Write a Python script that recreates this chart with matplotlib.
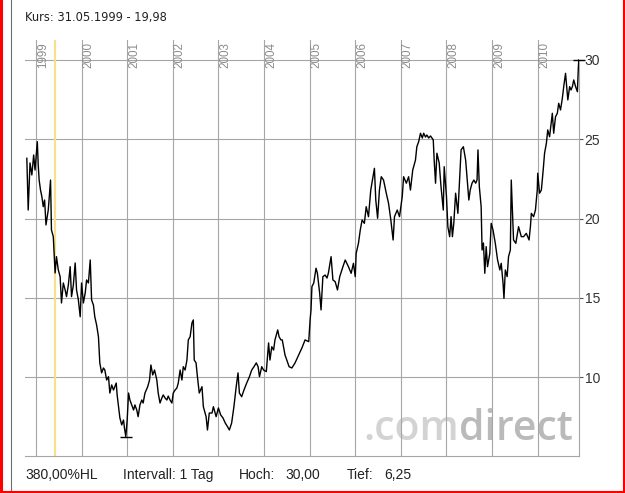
import matplotlib
matplotlib.use("Agg")
import numpy as np
import matplotlib.pyplot as plt
from matplotlib.lines import Line2D
from matplotlib.transforms import IdentityTransform

plt.rcParams['font.family'] = ['Liberation Sans', 'DejaVu Sans']

# Tageskurs (Zeit in Dezimaljahren)
jahr = [1998.80, 1998.83, 1998.87, 1998.91, 1998.95, 1998.98, 1999.03, 1999.05, 1999.07, 1999.10,
        1999.13, 1999.16, 1999.19, 1999.22, 1999.27, 1999.32, 1999.34, 1999.38, 1999.42, 1999.45,
        1999.49, 1999.53, 1999.56, 1999.60, 1999.64, 1999.67, 1999.71, 1999.75, 1999.78, 1999.82,
        1999.86, 1999.89, 1999.93, 1999.97, 2000.00, 2000.04, 2000.08, 2000.11, 2000.15, 2000.19,
        2000.22, 2000.26, 2000.29, 2000.33, 2000.37, 2000.40, 2000.44, 2000.48, 2000.51, 2000.55,
        2000.59, 2000.62, 2000.66, 2000.70, 2000.76, 2000.78, 2000.81, 2000.84, 2000.88, 2000.92,
        2000.94, 2000.97, 2001.00, 2001.03, 2001.06, 2001.10, 2001.14, 2001.17, 2001.21, 2001.24,
        2001.28, 2001.32, 2001.35, 2001.39, 2001.45, 2001.49, 2001.52, 2001.56, 2001.60, 2001.65,
        2001.68, 2001.72, 2001.76, 2001.79, 2001.83, 2001.87, 2001.90, 2001.94, 2001.98, 2002.01,
        2002.05, 2002.09, 2002.12, 2002.16, 2002.20, 2002.23, 2002.27, 2002.31, 2002.34, 2002.38,
        2002.42, 2002.45, 2002.47, 2002.51, 2002.54, 2002.58, 2002.64, 2002.67, 2002.73, 2002.76,
        2002.80, 2002.86, 2002.89, 2002.95, 2003.00, 2003.05, 2003.10, 2003.15, 2003.20, 2003.24,
        2003.29, 2003.34, 2003.39, 2003.43, 2003.46, 2003.51, 2003.56, 2003.62, 2003.68, 2003.73,
        2003.78, 2003.83, 2003.87, 2003.90, 2003.95, 2003.99, 2004.05, 2004.10, 2004.13, 2004.17,
        2004.21, 2004.24, 2004.30, 2004.33, 2004.37, 2004.40, 2004.46, 2004.50, 2004.55, 2004.61,
        2004.68, 2004.76, 2004.83, 2004.90, 2004.98, 2005.01, 2005.03, 2005.05, 2005.09, 2005.14,
        2005.17, 2005.22, 2005.25, 2005.29, 2005.34, 2005.38, 2005.41, 2005.47, 2005.51, 2005.56,
        2005.61, 2005.66, 2005.73, 2005.78, 2005.85, 2005.91, 2005.96, 2006.00, 2006.02, 2006.07,
        2006.11, 2006.15, 2006.20, 2006.24, 2006.29, 2006.34, 2006.39, 2006.42, 2006.45, 2006.49,
        2006.53, 2006.57, 2006.62, 2006.68, 2006.73, 2006.78, 2006.83, 2006.86, 2006.92, 2006.97,
        2007.03, 2007.06, 2007.12, 2007.17, 2007.21, 2007.26, 2007.32, 2007.35, 2007.39, 2007.43,
        2007.47, 2007.50, 2007.54, 2007.57, 2007.61, 2007.65, 2007.71, 2007.73, 2007.76, 2007.79,
        2007.84, 2007.88, 2007.93, 2007.95, 2008.00, 2008.03, 2008.07, 2008.10, 2008.13, 2008.16,
        2008.20, 2008.25, 2008.29, 2008.32, 2008.37, 2008.40, 2008.42, 2008.45, 2008.49, 2008.52,
        2008.56, 2008.60, 2008.64, 2008.67, 2008.69, 2008.72, 2008.76, 2008.78, 2008.81, 2008.84,
        2008.87, 2008.90, 2008.95, 2008.98, 2009.02, 2009.07, 2009.12, 2009.17, 2009.20, 2009.24,
        2009.26, 2009.29, 2009.33, 2009.36, 2009.40, 2009.42, 2009.44, 2009.47, 2009.52, 2009.58,
        2009.64, 2009.69, 2009.75, 2009.81, 2009.84, 2009.86, 2009.91, 2009.95, 2009.99, 2010.00,
        2010.04, 2010.08, 2010.12, 2010.15, 2010.19, 2010.22, 2010.26, 2010.29, 2010.32, 2010.35,
        2010.39, 2010.43, 2010.46, 2010.50, 2010.54, 2010.57, 2010.61, 2010.64, 2010.66, 2010.70,
        2010.73, 2010.76, 2010.79, 2010.83, 2010.87, 2010.89, 2010.90]

kurs = [23.80, 20.54, 23.51, 22.75, 24.01, 23.06, 24.85, 23.38, 22.43, 21.80,
        21.38, 20.75, 21.17, 19.60, 20.54, 22.43, 19.28, 18.86, 16.57, 17.60,
        16.76, 16.34, 14.68, 15.94, 15.50, 15.08, 15.81, 16.97, 15.08, 15.81,
        17.20, 15.50, 14.87, 13.81, 15.94, 14.68, 15.31, 16.13, 15.94, 17.39,
        14.87, 14.55, 13.81, 13.29, 12.55, 10.90, 10.27, 10.58, 10.45, 9.82,
        10.03, 9.00, 9.51, 9.19, 9.63, 8.88, 8.14, 7.43, 6.99, 7.30,
        6.80, 6.25, 7.30, 9.00, 8.56, 8.25, 7.93, 8.25, 7.93, 7.51,
        8.25, 8.56, 8.37, 9.00, 9.40, 9.82, 10.77, 10.14, 10.45, 9.82,
        9.00, 8.37, 8.69, 8.88, 8.69, 8.56, 8.81, 8.56, 8.37, 9.00,
        9.19, 9.32, 9.63, 10.45, 9.82, 10.66, 10.45, 11.08, 12.35, 12.55,
        13.42, 13.61, 11.08, 10.90, 10.03, 9.00, 9.40, 8.14, 7.51, 6.67,
        7.74, 7.74, 8.14, 7.51, 8.06, 7.62, 7.43, 7.11, 6.88, 6.67,
        7.11, 8.14, 9.40, 10.27, 9.00, 8.77, 9.19, 9.63, 10.03, 10.45,
        10.66, 10.90, 10.66, 10.03, 10.66, 10.45, 10.35, 12.16, 11.08, 11.92,
        11.71, 12.35, 12.98, 12.55, 12.35, 12.35, 11.40, 11.08, 10.66, 10.58,
        10.90, 11.40, 11.84, 12.35, 12.24, 13.61, 14.24, 15.71, 15.94, 16.87,
        16.55, 15.29, 14.24, 16.34, 16.44, 16.25, 16.55, 17.60, 16.13, 16.02,
        15.50, 16.34, 16.97, 17.39, 16.97, 16.55, 17.18, 16.34, 17.81, 18.44,
        19.28, 19.91, 19.70, 20.75, 20.12, 21.80, 22.64, 23.17, 21.17, 20.02,
        21.80, 22.64, 22.43, 21.60, 20.96, 19.91, 18.65, 20.12, 20.54, 20.12,
        21.38, 22.64, 22.23, 22.64, 21.80, 23.06, 23.69, 24.53, 24.85, 25.38,
        25.08, 25.38, 25.14, 25.27, 25.08, 25.21, 24.96, 23.69, 22.23, 24.12,
        23.51, 22.01, 20.54, 23.27, 21.38, 19.49, 18.86, 20.12, 18.86, 19.70,
        21.60, 20.33, 22.64, 24.33, 24.53, 24.01, 23.69, 22.64, 21.17, 21.80,
        22.23, 22.43, 22.23, 22.43, 24.33, 22.01, 20.75, 18.02, 18.46, 16.55,
        18.23, 16.97, 17.81, 19.70, 19.28, 18.44, 17.39, 16.76, 17.18, 15.92,
        14.97, 16.76, 16.34, 17.60, 18.02, 22.43, 20.96, 18.65, 18.44, 19.49,
        18.86, 18.86, 19.07, 18.65, 19.49, 20.33, 20.12, 20.54, 21.80, 22.86,
        21.60, 21.80, 23.06, 24.12, 24.75, 25.59, 25.16, 25.90, 26.64, 25.38,
        26.42, 26.64, 27.27, 26.85, 27.59, 28.32, 29.16, 28.11, 27.48, 28.32,
        28.11, 28.32, 28.74, 28.32, 28.00, 29.48, 30.00]

jahre = list(range(1999, 2011))
y_ticks = [10, 15, 20, 25, 30]
stichtag = 1999.411   # 31.05.1999
hoch = 30.00
tief = 6.25

W, H = 625, 493
fig = plt.figure(figsize=(W / 100, H / 100), dpi=100)
ax = fig.add_axes([25 / W, 37 / H, 554 / W, 416 / H])
ax.set_xlim(1998.76, 2010.905)
ax.set_ylim(5.03, 31.26)

grid_c = '#a6a6a6'
for s in ['left', 'top']:
    ax.spines[s].set_visible(False)
ax.spines['right'].set_color(grid_c)
ax.spines['bottom'].set_color(grid_c)
ax.spines['right'].set_bounds(5.03, 30)
ax.yaxis.tick_right()
ax.set_yticks(y_ticks)
ax.set_yticklabels([str(v) for v in y_ticks])
ax.tick_params(axis='y', length=3, width=0.8, color='#555555', labelsize=10,
               labelcolor='#333333', pad=1)
ax.set_xticks([])

for v in y_ticks:
    ax.axhline(v, color=grid_c, lw=0.8, zorder=1)
for j in jahre:
    ax.axvline(j, color=grid_c, lw=0.8, zorder=1)
    ax.annotate(str(j), xy=(j, 1), xycoords=('data', 'axes fraction'),
                xytext=(1, -2), textcoords='offset pixels', rotation=90,
                ha='left', va='top', fontsize=8.4, color='#8c8c8c')

ax.axvline(stichtag, color='#f6e08e', lw=1.6, zorder=2)

# Wasserzeichen
bx, by = ax.transAxes.transform((0.989, 0.039))
t2 = ax.text(bx, by, 'direct', transform=IdentityTransform(), ha='right', va='baseline',
             fontsize=29.5, family='Open Sans', fontweight='semibold', color='#bababa', zorder=0.5)
fig.canvas.draw()
bb = t2.get_window_extent(fig.canvas.get_renderer())
ax.text(bb.x0, by, '.com', transform=IdentityTransform(), ha='right', va='baseline',
        fontsize=29.5, family='Open Sans', fontweight='semibold', color='#d3d3d3', zorder=0.5)

ax.plot(jahr, kurs, color='black', lw=1.0, zorder=3)
i_lo = int(np.argmin(kurs))
i_hi = int(np.argmax(kurs))
ax.plot([jahr[i_lo]], [tief], marker='_', ms=9, mew=1, color='black', zorder=4)
ax.plot([jahr[i_hi]], [hoch], marker='_', ms=9, mew=1, color='black', zorder=4, clip_on=False)

fig.text(25 / W, 1 - 17 / H, 'Kurs: 31.05.1999 - 19,98', va='center', ha='left',
         fontsize=8.3, family='DejaVu Sans', color='#222222')

yb = 1 - 475 / H
fig.text(25 / W, yb, '380,00%HL', va='center', fontsize=10, color='#222222')
fig.text(123 / W, yb, 'Intervall: 1 Tag', va='center', fontsize=10, color='#222222')
fig.text(239 / W, yb, 'Hoch:', va='center', fontsize=10, color='#222222')
fig.text(285 / W, yb, '30,00', va='center', fontsize=10, color='#222222')
fig.text(347 / W, yb, 'Tief:', va='center', fontsize=10, color='#222222')
fig.text(384 / W, yb, '6,25', va='center', fontsize=10, color='#222222')

# Rahmen
fig.add_artist(Line2D([10.5 / W, 10.5 / W], [0, 1], color='#6e6e6e', lw=0.8))
for xs, ys in [([1.5 / W, 1.5 / W], [0, 1]), ([1 - 1.5 / W, 1 - 1.5 / W], [0, 1]),
               ([0, 1], [1.5 / H, 1.5 / H])]:
    fig.add_artist(Line2D(xs, ys, color='#ff0000', lw=2.2))

fig.savefig('out.png', dpi=100)
